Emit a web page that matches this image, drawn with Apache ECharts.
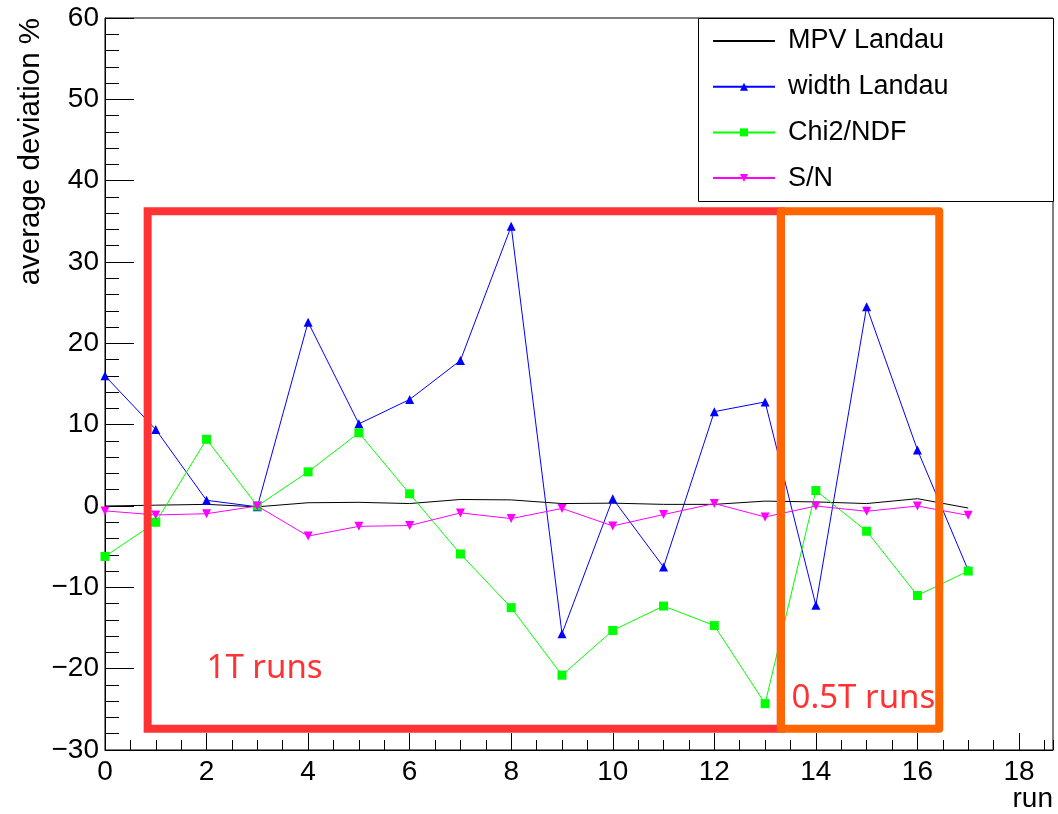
<!DOCTYPE html>
<html>
<head>
<meta charset="utf-8">
<script src="https://cdn.jsdelivr.net/npm/echarts@6/dist/echarts.min.js"></script>
<style>
  html, body { margin: 0; padding: 0; background: #fff; }
  #chart { width: 1058px; height: 814px; }
</style>
</head>
<body>
<div id="chart"></div>
<script>
// Run numbers
const runs = [0, 1, 2, 3, 4, 5, 6, 7, 8, 9, 10, 11, 12, 13, 14, 15, 16, 17];

// Average deviation (%) per run for each fitted quantity
const mpvLandau   = [0.0, 0.1, 0.2, -0.1, 0.4, 0.45, 0.3, 0.8, 0.75, 0.3, 0.35, 0.2, 0.2, 0.6, 0.5, 0.3, 0.9, -0.25];
const widthLandau = [16.0, 9.4, 0.7, -0.1, 22.6, 10.1, 13.1, 17.9, 34.4, -15.7, 0.9, -7.5, 11.6, 12.8, -12.2, 24.5, 6.9, -7.9];
const chi2NDF     = [-6.2, -2.0, 8.2, 0.0, 4.2, 9.0, 1.5, -5.9, -12.5, -20.8, -15.3, -12.3, -14.7, -24.3, 1.9, -3.1, -11.0, -8.0];
const sToN        = [-0.6, -1.1, -0.95, 0.0, -3.7, -2.5, -2.4, -0.85, -1.55, -0.3, -2.45, -1.05, 0.3, -1.35, 0.0, -0.65, 0.0, -1.15];

// Magnetic-field groups: [run from, run to, deviation bottom, deviation top]
const fieldGroups = [
  [0.84, 13.31, -27.4, 36.25],
  [13.31, 16.43, -27.4, 36.25]
];
const fieldLabels = ['1T runs', '0.5T runs'];
// Label anchor for each group: [run, deviation]
const fieldLabelAt = [
  [2.0, -20.0],
  [13.52, -23.7]
];

const seriesNames = ['MPV Landau', 'width Landau', 'Chi2/NDF', 'S/N'];

const boxColors = ['#ff3333', '#ff6600'];
const boxJoins = ['miter', 'round'];

const FONT = '"Liberation Sans", Arial, Helvetica, sans-serif';
const fmtNum = v => String(v).replace('-', '\u2212');

const pairs = arr => arr.map((v, i) => [runs[i], v]);

const chart = echarts.init(document.getElementById('chart'), null, { renderer: 'canvas' });

const lineBase = {
  type: 'line',
  silent: true,
  animation: false,
  lineStyle: { width: 1 },
  emphasis: { disabled: true },
  symbolSize: 9
};

chart.setOption({
  backgroundColor: '#ffffff',
  animation: false,
  grid: {
    left: 105, right: 5, top: 18, bottom: 64,
    show: true, borderColor: '#000', borderWidth: 1, backgroundColor: 'transparent'
  },
  xAxis: [
    {
      type: 'value', min: 0, max: 18.67, interval: 2, position: 'bottom',
      axisLine: { show: true, onZero: false, lineStyle: { color: '#000', width: 1 } },
      axisTick: { show: true, inside: true, length: 17, lineStyle: { color: '#000' } },
      minorTick: { show: false },
      splitLine: { show: false },
      axisLabel: {
        show: true, margin: 8, color: '#000', fontSize: 28, fontFamily: FONT,
        showMaxLabel: false,
        formatter: v => (Number.isInteger(v) ? fmtNum(v) : '')
      }
    },
    {
      // finer half-run ticks
      type: 'value', min: 0, max: 18.67, interval: 0.5, position: 'bottom',
      axisLine: { show: false, onZero: false },
      axisTick: { show: true, inside: true, length: 10, lineStyle: { color: '#000' } },
      axisLabel: { show: false },
      splitLine: { show: false }
    }
  ],
  yAxis: {
    type: 'value', min: -30, max: 60, interval: 10,
    axisLine: { show: true, onZero: false, lineStyle: { color: '#000', width: 1 } },
    axisTick: { show: true, inside: true, length: 29, lineStyle: { color: '#000' } },
    minorTick: { show: true, splitNumber: 5, length: 14, lineStyle: { color: '#000' } },
    splitLine: { show: false },
    axisLabel: { margin: 6, color: '#000', fontSize: 28, fontFamily: FONT, formatter: fmtNum }
  },
  legend: {
    orient: 'vertical', left: 712, top: 27.5, padding: 0, z: 10,
    itemWidth: 62, itemHeight: 10, itemGap: 18.7,
    selectedMode: false,
    textStyle: { fontSize: 27, fontFamily: FONT, color: '#000', padding: [0, 0, 0, 8] },
    data: [
      { name: seriesNames[0], itemStyle: { opacity: 0 } },
      { name: seriesNames[1] },
      { name: seriesNames[2] },
      { name: seriesNames[3] }
    ]
  },
  graphic: [
    {
      type: 'rect', z: 1,
      shape: { x: 698.5, y: 18.5, width: 355, height: 183 },
      style: { fill: '#fff', stroke: '#000', lineWidth: 1 }
    },
    {
      type: 'text', z: 60, x: 31, y: 18, rotation: Math.PI / 2,
      style: { text: 'average deviation %', fill: '#000', font: '29.5px ' + FONT, align: 'right', verticalAlign: 'middle' }
    },
    {
      type: 'text', z: 60, x: 1053, y: 799,
      style: { text: 'run', fill: '#000', font: '28px ' + FONT, align: 'right', verticalAlign: 'middle' }
    }
  ],
  series: [
    Object.assign({}, lineBase, {
      name: seriesNames[0], data: pairs(mpvLandau), symbol: 'none',
      color: '#000', lineStyle: { width: 1, color: '#000' }, z: 2
    }),
    Object.assign({}, lineBase, {
      name: seriesNames[1], data: pairs(widthLandau), symbol: 'triangle',
      color: '#0000ff', lineStyle: { width: 1, color: '#0000ff' }, z: 3
    }),
    Object.assign({}, lineBase, {
      name: seriesNames[2], data: pairs(chi2NDF), symbol: 'rect',
      color: '#00ff00', lineStyle: { width: 1, color: '#00ff00' }, z: 4
    }),
    Object.assign({}, lineBase, {
      name: seriesNames[3], data: pairs(sToN), symbol: 'triangle', symbolRotate: 180,
      color: '#ff00ff', lineStyle: { width: 1, color: '#ff00ff' }, z: 5
    }),
    {
      type: 'custom', silent: true, animation: false, z: 20,
      data: fieldGroups.map((g, i) => g.concat(fieldLabelAt[i], [i])),
      renderItem: (params, api) => {
        const i = api.value(6);
        const p0 = api.coord([api.value(0), api.value(3)]);
        const p1 = api.coord([api.value(1), api.value(2)]);
        const lp = api.coord([api.value(4), api.value(5)]);
        return {
          type: 'group',
          children: [
            {
              type: 'rect',
              shape: { x: p0[0], y: p0[1], width: p1[0] - p0[0], height: p1[1] - p0[1] },
              style: { fill: 'none', stroke: boxColors[i], lineWidth: 8, lineJoin: boxJoins[i] }
            },
            {
              type: 'text',
              style: {
                text: fieldLabels[i], x: lp[0], y: lp[1], fill: '#ff3333',
                font: '33px "Noto Sans", sans-serif', align: 'left', verticalAlign: 'middle'
              }
            }
          ]
        };
      }
    }
  ]
});
</script>
</body>
</html>
